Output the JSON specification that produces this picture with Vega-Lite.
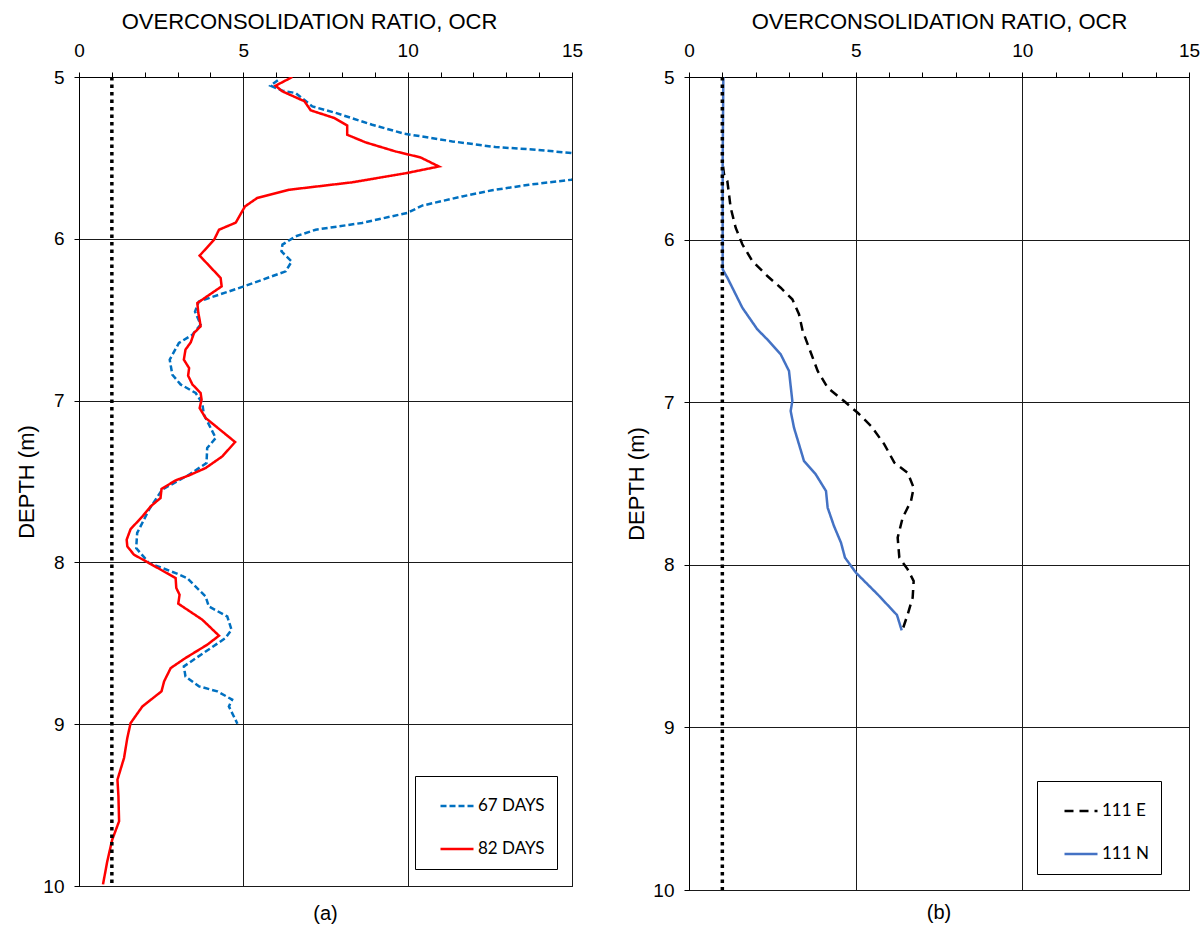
{
  "$schema": "https://vega.github.io/schema/vega-lite/v6.json",
  "padding": {"left": 15, "top": 9, "right": 5, "bottom": 5},
  "spacing": 41,
  "background": "white",
  "datasets": {
    "a": [
      {"series": "67 DAYS", "depth": 5.02, "ocr": 6.05},
      {"series": "67 DAYS", "depth": 5.054, "ocr": 5.83},
      {"series": "67 DAYS", "depth": 5.085, "ocr": 6.19},
      {"series": "67 DAYS", "depth": 5.099, "ocr": 6.59},
      {"series": "67 DAYS", "depth": 5.182, "ocr": 7.10},
      {"series": "67 DAYS", "depth": 5.222, "ocr": 7.81},
      {"series": "67 DAYS", "depth": 5.295, "ocr": 8.92},
      {"series": "67 DAYS", "depth": 5.35, "ocr": 9.89},
      {"series": "67 DAYS", "depth": 5.398, "ocr": 11.36},
      {"series": "67 DAYS", "depth": 5.433, "ocr": 12.67},
      {"series": "67 DAYS", "depth": 5.449, "ocr": 13.89},
      {"series": "67 DAYS", "depth": 5.47, "ocr": 14.98},
      {"series": "67 DAYS", "depth": 5.55, "ocr": 17.5},
      {"series": "67 DAYS", "depth": 5.635, "ocr": 14.98},
      {"series": "67 DAYS", "depth": 5.666, "ocr": 13.69},
      {"series": "67 DAYS", "depth": 5.70, "ocr": 12.57},
      {"series": "67 DAYS", "depth": 5.738, "ocr": 11.66},
      {"series": "67 DAYS", "depth": 5.795, "ocr": 10.44},
      {"series": "67 DAYS", "depth": 5.84, "ocr": 9.99},
      {"series": "67 DAYS", "depth": 5.902, "ocr": 8.61},
      {"series": "67 DAYS", "depth": 5.944, "ocr": 7.20},
      {"series": "67 DAYS", "depth": 5.985, "ocr": 6.59},
      {"series": "67 DAYS", "depth": 6.036, "ocr": 6.19},
      {"series": "67 DAYS", "depth": 6.078, "ocr": 6.16},
      {"series": "67 DAYS", "depth": 6.14, "ocr": 6.47},
      {"series": "67 DAYS", "depth": 6.201, "ocr": 6.29},
      {"series": "67 DAYS", "depth": 6.294, "ocr": 5.02},
      {"series": "67 DAYS", "depth": 6.387, "ocr": 3.65},
      {"series": "67 DAYS", "depth": 6.45, "ocr": 3.53},
      {"series": "67 DAYS", "depth": 6.53, "ocr": 3.70},
      {"series": "67 DAYS", "depth": 6.593, "ocr": 3.45},
      {"series": "67 DAYS", "depth": 6.644, "ocr": 3.04},
      {"series": "67 DAYS", "depth": 6.747, "ocr": 2.76},
      {"series": "67 DAYS", "depth": 6.84, "ocr": 2.84},
      {"series": "67 DAYS", "depth": 6.90, "ocr": 3.09},
      {"series": "67 DAYS", "depth": 6.953, "ocr": 3.55},
      {"series": "67 DAYS", "depth": 7.015, "ocr": 3.75},
      {"series": "67 DAYS", "depth": 7.087, "ocr": 3.80},
      {"series": "67 DAYS", "depth": 7.231, "ocr": 4.16},
      {"series": "67 DAYS", "depth": 7.293, "ocr": 3.90},
      {"series": "67 DAYS", "depth": 7.386, "ocr": 3.88},
      {"series": "67 DAYS", "depth": 7.458, "ocr": 3.35},
      {"series": "67 DAYS", "depth": 7.55, "ocr": 2.53},
      {"series": "67 DAYS", "depth": 7.674, "ocr": 2.13},
      {"series": "67 DAYS", "depth": 7.818, "ocr": 1.77},
      {"series": "67 DAYS", "depth": 7.911, "ocr": 1.74},
      {"series": "67 DAYS", "depth": 8.004, "ocr": 2.13},
      {"series": "67 DAYS", "depth": 8.066, "ocr": 2.94},
      {"series": "67 DAYS", "depth": 8.097, "ocr": 3.29},
      {"series": "67 DAYS", "depth": 8.21, "ocr": 3.85},
      {"series": "67 DAYS", "depth": 8.272, "ocr": 3.95},
      {"series": "67 DAYS", "depth": 8.334, "ocr": 4.51},
      {"series": "67 DAYS", "depth": 8.416, "ocr": 4.64},
      {"series": "67 DAYS", "depth": 8.467, "ocr": 4.46},
      {"series": "67 DAYS", "depth": 8.643, "ocr": 3.19},
      {"series": "67 DAYS", "depth": 8.705, "ocr": 3.24},
      {"series": "67 DAYS", "depth": 8.766, "ocr": 3.65},
      {"series": "67 DAYS", "depth": 8.797, "ocr": 4.21},
      {"series": "67 DAYS", "depth": 8.848, "ocr": 4.66},
      {"series": "67 DAYS", "depth": 8.89, "ocr": 4.56},
      {"series": "67 DAYS", "depth": 8.997, "ocr": 4.82},
      {"series": "82 DAYS", "depth": 5.0, "ocr": 6.49},
      {"series": "82 DAYS", "depth": 5.054, "ocr": 5.98},
      {"series": "82 DAYS", "depth": 5.089, "ocr": 6.19},
      {"series": "82 DAYS", "depth": 5.15, "ocr": 6.86},
      {"series": "82 DAYS", "depth": 5.206, "ocr": 7.05},
      {"series": "82 DAYS", "depth": 5.253, "ocr": 7.76},
      {"series": "82 DAYS", "depth": 5.30, "ocr": 8.16},
      {"series": "82 DAYS", "depth": 5.357, "ocr": 8.16},
      {"series": "82 DAYS", "depth": 5.404, "ocr": 8.72},
      {"series": "82 DAYS", "depth": 5.46, "ocr": 9.63},
      {"series": "82 DAYS", "depth": 5.497, "ocr": 10.39},
      {"series": "82 DAYS", "depth": 5.553, "ocr": 10.95},
      {"series": "82 DAYS", "depth": 5.593, "ocr": 9.99},
      {"series": "82 DAYS", "depth": 5.651, "ocr": 8.31},
      {"series": "82 DAYS", "depth": 5.697, "ocr": 6.39},
      {"series": "82 DAYS", "depth": 5.748, "ocr": 5.42},
      {"series": "82 DAYS", "depth": 5.80, "ocr": 5.05},
      {"series": "82 DAYS", "depth": 5.90, "ocr": 4.77},
      {"series": "82 DAYS", "depth": 5.944, "ocr": 4.26},
      {"series": "82 DAYS", "depth": 6.006, "ocr": 4.11},
      {"series": "82 DAYS", "depth": 6.104, "ocr": 3.67},
      {"series": "82 DAYS", "depth": 6.242, "ocr": 4.31},
      {"series": "82 DAYS", "depth": 6.294, "ocr": 4.34},
      {"series": "82 DAYS", "depth": 6.397, "ocr": 3.60},
      {"series": "82 DAYS", "depth": 6.459, "ocr": 3.63},
      {"series": "82 DAYS", "depth": 6.50, "ocr": 3.67},
      {"series": "82 DAYS", "depth": 6.541, "ocr": 3.70},
      {"series": "82 DAYS", "depth": 6.582, "ocr": 3.50},
      {"series": "82 DAYS", "depth": 6.64, "ocr": 3.40},
      {"series": "82 DAYS", "depth": 6.685, "ocr": 3.24},
      {"series": "82 DAYS", "depth": 6.747, "ocr": 3.19},
      {"series": "82 DAYS", "depth": 6.799, "ocr": 3.35},
      {"series": "82 DAYS", "depth": 6.846, "ocr": 3.32},
      {"series": "82 DAYS", "depth": 6.90, "ocr": 3.45},
      {"series": "82 DAYS", "depth": 6.953, "ocr": 3.70},
      {"series": "82 DAYS", "depth": 6.994, "ocr": 3.73},
      {"series": "82 DAYS", "depth": 7.046, "ocr": 3.67},
      {"series": "82 DAYS", "depth": 7.107, "ocr": 3.85},
      {"series": "82 DAYS", "depth": 7.256, "ocr": 4.75},
      {"series": "82 DAYS", "depth": 7.345, "ocr": 4.36},
      {"series": "82 DAYS", "depth": 7.417, "ocr": 3.85},
      {"series": "82 DAYS", "depth": 7.462, "ocr": 3.35},
      {"series": "82 DAYS", "depth": 7.493, "ocr": 2.94},
      {"series": "82 DAYS", "depth": 7.546, "ocr": 2.51},
      {"series": "82 DAYS", "depth": 7.602, "ocr": 2.48},
      {"series": "82 DAYS", "depth": 7.654, "ocr": 2.18},
      {"series": "82 DAYS", "depth": 7.716, "ocr": 1.93},
      {"series": "82 DAYS", "depth": 7.794, "ocr": 1.57},
      {"series": "82 DAYS", "depth": 7.86, "ocr": 1.45},
      {"series": "82 DAYS", "depth": 7.901, "ocr": 1.47},
      {"series": "82 DAYS", "depth": 7.952, "ocr": 1.67},
      {"series": "82 DAYS", "depth": 8.004, "ocr": 2.13},
      {"series": "82 DAYS", "depth": 8.097, "ocr": 2.94},
      {"series": "82 DAYS", "depth": 8.158, "ocr": 2.96},
      {"series": "82 DAYS", "depth": 8.20, "ocr": 3.06},
      {"series": "82 DAYS", "depth": 8.255, "ocr": 3.02},
      {"series": "82 DAYS", "depth": 8.354, "ocr": 3.75},
      {"series": "82 DAYS", "depth": 8.453, "ocr": 4.26},
      {"series": "82 DAYS", "depth": 8.509, "ocr": 3.90},
      {"series": "82 DAYS", "depth": 8.591, "ocr": 3.24},
      {"series": "82 DAYS", "depth": 8.653, "ocr": 2.79},
      {"series": "82 DAYS", "depth": 8.735, "ocr": 2.59},
      {"series": "82 DAYS", "depth": 8.797, "ocr": 2.51},
      {"series": "82 DAYS", "depth": 8.89, "ocr": 1.93},
      {"series": "82 DAYS", "depth": 8.993, "ocr": 1.57},
      {"series": "82 DAYS", "depth": 9.085, "ocr": 1.47},
      {"series": "82 DAYS", "depth": 9.209, "ocr": 1.37},
      {"series": "82 DAYS", "depth": 9.343, "ocr": 1.17},
      {"series": "82 DAYS", "depth": 9.446, "ocr": 1.20},
      {"series": "82 DAYS", "depth": 9.60, "ocr": 1.22},
      {"series": "82 DAYS", "depth": 9.714, "ocr": 1.01},
      {"series": "82 DAYS", "depth": 9.848, "ocr": 0.86},
      {"series": "82 DAYS", "depth": 9.99, "ocr": 0.73}
    ],
    "b": [
      {"series": "111 E", "depth": 5.55, "ocr": 1.02},
      {"series": "111 E", "depth": 5.598, "ocr": 1.05},
      {"series": "111 E", "depth": 5.64, "ocr": 1.15},
      {"series": "111 E", "depth": 5.721, "ocr": 1.20},
      {"series": "111 E", "depth": 5.804, "ocr": 1.25},
      {"series": "111 E", "depth": 5.927, "ocr": 1.40},
      {"series": "111 E", "depth": 6.029, "ocr": 1.60},
      {"series": "111 E", "depth": 6.132, "ocr": 1.90},
      {"series": "111 E", "depth": 6.224, "ocr": 2.35},
      {"series": "111 E", "depth": 6.296, "ocr": 2.75},
      {"series": "111 E", "depth": 6.367, "ocr": 3.10},
      {"series": "111 E", "depth": 6.459, "ocr": 3.30},
      {"series": "111 E", "depth": 6.562, "ocr": 3.41},
      {"series": "111 E", "depth": 6.665, "ocr": 3.60},
      {"series": "111 E", "depth": 6.808, "ocr": 3.86},
      {"series": "111 E", "depth": 6.911, "ocr": 4.16},
      {"series": "111 E", "depth": 6.993, "ocr": 4.65},
      {"series": "111 E", "depth": 7.065, "ocr": 5.06},
      {"series": "111 E", "depth": 7.146, "ocr": 5.46},
      {"series": "111 E", "depth": 7.259, "ocr": 5.86},
      {"series": "111 E", "depth": 7.372, "ocr": 6.16},
      {"series": "111 E", "depth": 7.434, "ocr": 6.56},
      {"series": "111 E", "depth": 7.526, "ocr": 6.74},
      {"series": "111 E", "depth": 7.608, "ocr": 6.66},
      {"series": "111 E", "depth": 7.71, "ocr": 6.41},
      {"series": "111 E", "depth": 7.833, "ocr": 6.26},
      {"series": "111 E", "depth": 7.956, "ocr": 6.31},
      {"series": "111 E", "depth": 8.028, "ocr": 6.56},
      {"series": "111 E", "depth": 8.10, "ocr": 6.74},
      {"series": "111 E", "depth": 8.202, "ocr": 6.71},
      {"series": "111 E", "depth": 8.305, "ocr": 6.56},
      {"series": "111 E", "depth": 8.397, "ocr": 6.41},
      {"series": "111 N", "depth": 5.0, "ocr": 1.03},
      {"series": "111 N", "depth": 5.517, "ocr": 1.01},
      {"series": "111 N", "depth": 6.183, "ocr": 1.01},
      {"series": "111 N", "depth": 6.234, "ocr": 1.15},
      {"series": "111 N", "depth": 6.316, "ocr": 1.35},
      {"series": "111 N", "depth": 6.419, "ocr": 1.60},
      {"series": "111 N", "depth": 6.552, "ocr": 2.05},
      {"series": "111 N", "depth": 6.614, "ocr": 2.35},
      {"series": "111 N", "depth": 6.705, "ocr": 2.75},
      {"series": "111 N", "depth": 6.808, "ocr": 3.00},
      {"series": "111 N", "depth": 6.993, "ocr": 3.10},
      {"series": "111 N", "depth": 7.054, "ocr": 3.05},
      {"series": "111 N", "depth": 7.157, "ocr": 3.15},
      {"series": "111 N", "depth": 7.259, "ocr": 3.30},
      {"series": "111 N", "depth": 7.362, "ocr": 3.45},
      {"series": "111 N", "depth": 7.443, "ocr": 3.80},
      {"series": "111 N", "depth": 7.546, "ocr": 4.11},
      {"series": "111 N", "depth": 7.649, "ocr": 4.16},
      {"series": "111 N", "depth": 7.762, "ocr": 4.35},
      {"series": "111 N", "depth": 7.864, "ocr": 4.56},
      {"series": "111 N", "depth": 7.956, "ocr": 4.68},
      {"series": "111 N", "depth": 8.049, "ocr": 5.01},
      {"series": "111 N", "depth": 8.182, "ocr": 5.66},
      {"series": "111 N", "depth": 8.309, "ocr": 6.24},
      {"series": "111 N", "depth": 8.403, "ocr": 6.38}
    ],
    "ref": [{"ocr": 1}]
  },
  "config": {
    "view": {"stroke": "black", "strokeWidth": 1},
    "font": "Liberation Sans",
    "axis": {
      "domainColor": "black",
      "domainWidth": 1,
      "tickColor": "black",
      "tickWidth": 1,
      "tickSize": 5,
      "labelColor": "black",
      "titleColor": "black",
      "labelFont": "Liberation Sans",
      "titleFont": "Liberation Sans",
      "labelFontSize": 19,
      "titleFontSize": 22,
      "titleFontWeight": "normal",
      "gridColor": "#1a1a1a",
      "gridWidth": 1,
      "labelFlush": false,
      "labelOverlap": false,
      "labelBound": false
    },
    "legend": {
      "orient": "none",
      "title": null,
      "direction": "vertical",
      "strokeColor": "black",
      "fillColor": "white",
      "symbolType": "stroke",
      "symbolSize": 1089,
      "symbolStrokeWidth": 2.5,
      "labelFont": "Lato",
      "labelFontSize": 17,
      "labelColor": "black",
      "padding": 12,
      "rowPadding": 17,
      "symbolOffset": 12,
      "labelOffset": 3
    },
    "title": {"font": "Liberation Sans", "fontSize": 20, "fontWeight": "normal", "color": "black"}
  },
  "resolve": {
    "scale": {"color": "independent", "strokeDash": "independent"},
    "legend": {"color": "independent", "strokeDash": "independent"}
  },
  "hconcat": [
    {
      "width": 493,
      "height": 809,
      "title": {"text": "(a)", "orient": "bottom", "frame": "group", "anchor": "middle", "offset": 8},
      "layer": [
        {
          "data": {"name": "a"},
          "mark": {"type": "line", "clip": true, "strokeWidth": 2.5},
          "encoding": {
            "x": {
              "field": "ocr", "type": "quantitative",
              "scale": {"domain": [0, 15], "nice": false, "zero": false},
              "axis": {
                "orient": "top",
                "title": "OVERCONSOLIDATION RATIO, OCR",
                "titleX": 230,
                "values": [0,1,2,3,4,5,6,7,8,9,10,11,12,13,14,15],
                "format": "d",
                "labelExpr": "datum.value % 5 === 0 ? datum.label : ''",
                "gridOpacity": {"condition": {"test": "datum.value % 5 === 0", "value": 1}, "value": 0},
                "labelPadding": 12,
                "titlePadding": 8
              }
            },
            "y": {
              "field": "depth", "type": "quantitative",
              "scale": {"domain": [5, 10], "reverse": true, "nice": false, "zero": false},
              "axis": {
                "title": "DEPTH (m)",
                "values": [5,5.25,5.5,5.75,6,6.25,6.5,6.75,7,7.25,7.5,7.75,8,8.25,8.5,8.75,9,9.25,9.5,9.75,10],
                "format": "d",
                "labelExpr": "datum.value % 1 === 0 ? datum.label : ''",
                "gridOpacity": {"condition": {"test": "datum.value % 1 === 0", "value": 1}, "value": 0},
                "labelPadding": 10,
                "titlePadding": 4
              }
            },
            "order": {"field": "depth", "type": "quantitative"},
            "color": {
              "field": "series", "type": "nominal",
              "scale": {"domain": ["67 DAYS", "82 DAYS"], "range": ["#0070C0", "#FF0000"]},
              "legend": {"legendX": 336, "legendY": 699}
            },
            "strokeDash": {
              "field": "series", "type": "nominal",
              "scale": {"domain": ["67 DAYS", "82 DAYS"], "range": [[6, 3], [1, 0]]},
              "legend": {"legendX": 336, "legendY": 699}
            }
          }
        },
        {
          "data": {"name": "ref"},
          "mark": {"type": "rule", "color": "black", "strokeWidth": 3.5, "strokeDash": [3.5, 4]},
          "encoding": {
            "x": {
              "field": "ocr", "type": "quantitative",
              "scale": {"domain": [0, 15], "nice": false, "zero": false},
              "axis": {
                "orient": "top",
                "title": "OVERCONSOLIDATION RATIO, OCR",
                "titleX": 230,
                "values": [0,1,2,3,4,5,6,7,8,9,10,11,12,13,14,15],
                "format": "d",
                "labelExpr": "datum.value % 5 === 0 ? datum.label : ''",
                "gridOpacity": {"condition": {"test": "datum.value % 5 === 0", "value": 1}, "value": 0},
                "labelPadding": 12,
                "titlePadding": 8
              }
            }
          }
        }
      ]
    },
    {
      "width": 500,
      "height": 813,
      "title": {"text": "(b)", "orient": "bottom", "frame": "group", "anchor": "middle", "offset": 3},
      "layer": [
        {
          "data": {"name": "b"},
          "mark": {"type": "line", "clip": true, "strokeWidth": 2.5},
          "encoding": {
            "x": {
              "field": "ocr", "type": "quantitative",
              "scale": {"domain": [0, 15], "nice": false, "zero": false},
              "axis": {
                "orient": "top",
                "title": "OVERCONSOLIDATION RATIO, OCR",
                "values": [0,1,2,3,4,5,6,7,8,9,10,11,12,13,14,15],
                "format": "d",
                "labelExpr": "datum.value % 5 === 0 ? datum.label : ''",
                "gridOpacity": {"condition": {"test": "datum.value % 5 === 0", "value": 1}, "value": 0},
                "labelPadding": 12,
                "titlePadding": 8
              }
            },
            "y": {
              "field": "depth", "type": "quantitative",
              "scale": {"domain": [5, 10], "reverse": true, "nice": false, "zero": false},
              "axis": {
                "title": "DEPTH (m)",
                "values": [5,5.25,5.5,5.75,6,6.25,6.5,6.75,7,7.25,7.5,7.75,8,8.25,8.5,8.75,9,9.25,9.5,9.75,10],
                "format": "d",
                "labelExpr": "datum.value % 1 === 0 ? datum.label : ''",
                "gridOpacity": {"condition": {"test": "datum.value % 1 === 0", "value": 1}, "value": 0},
                "labelPadding": 10,
                "titlePadding": 4
              }
            },
            "order": {"field": "depth", "type": "quantitative"},
            "color": {
              "field": "series", "type": "nominal",
              "scale": {"domain": ["111 E", "111 N"], "range": ["black", "#4472C4"]},
              "legend": {"legendX": 348, "legendY": 704, "symbolOffset": 14}
            },
            "strokeDash": {
              "field": "series", "type": "nominal",
              "scale": {"domain": ["111 E", "111 N"], "range": [[9, 6], [1, 0]]},
              "legend": {"legendX": 348, "legendY": 704, "symbolOffset": 14}
            }
          }
        },
        {
          "data": {"name": "ref"},
          "mark": {"type": "rule", "color": "black", "strokeWidth": 3.5, "strokeDash": [3.5, 4]},
          "encoding": {
            "x": {
              "field": "ocr", "type": "quantitative",
              "scale": {"domain": [0, 15], "nice": false, "zero": false},
              "axis": {
                "orient": "top",
                "title": "OVERCONSOLIDATION RATIO, OCR",
                "values": [0,1,2,3,4,5,6,7,8,9,10,11,12,13,14,15],
                "format": "d",
                "labelExpr": "datum.value % 5 === 0 ? datum.label : ''",
                "gridOpacity": {"condition": {"test": "datum.value % 5 === 0", "value": 1}, "value": 0},
                "labelPadding": 12,
                "titlePadding": 8
              }
            }
          }
        }
      ]
    }
  ]
}
